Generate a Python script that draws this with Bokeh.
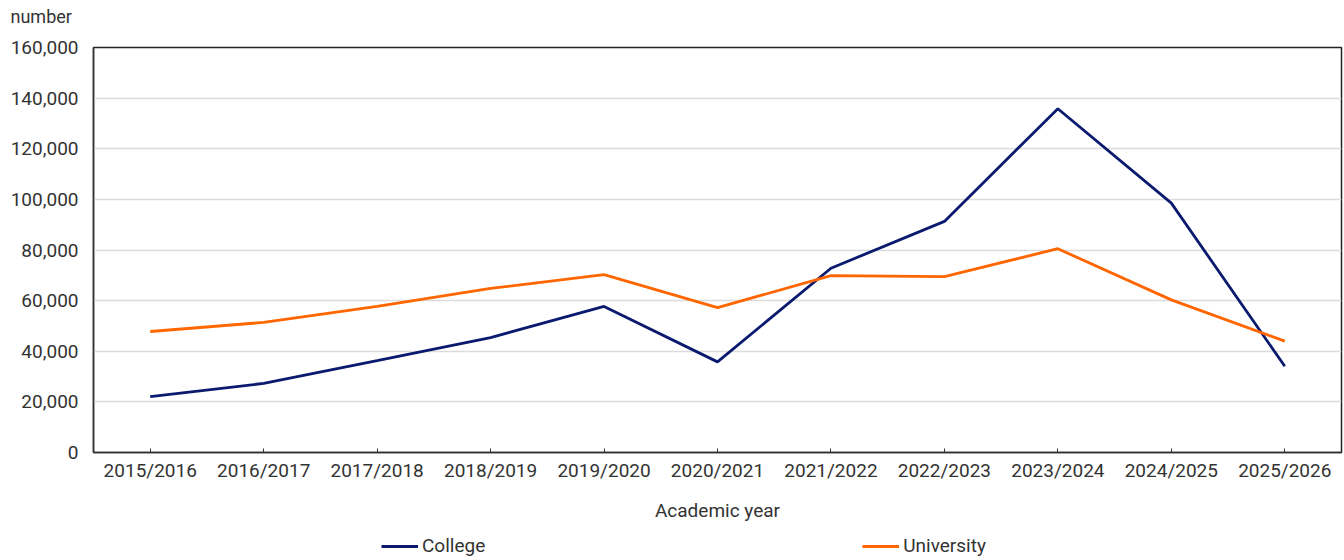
from bokeh.plotting import figure
from bokeh.layouts import column
from bokeh.models import (FactorRange, Range1d, NumeralTickFormatter, Legend,
                          LegendItem, FixedTicker)
from bokeh.embed import file_html
from bokeh.resources import INLINE

years = ["2015/2016", "2016/2017", "2017/2018", "2018/2019", "2019/2020",
         "2020/2021", "2021/2022", "2022/2023", "2023/2024", "2024/2025",
         "2025/2026"]
college = [22100, 27300, 36300, 45400, 57700, 35800, 72800, 91300, 135800, 98500, 34100]
university = [47800, 51400, 57700, 64800, 70300, 57200, 69900, 69500, 80500, 60300, 44000]
y_ticks = [0, 20000, 40000, 60000, 80000, 100000, 120000, 140000, 160000]

FONT = "Roboto"
FS = "19px"
TXT = "#333333"
C1 = "#0a1a6e"
C2 = "#ff6600"

p = figure(width=1344, height=525, x_range=FactorRange(*years),
           y_range=Range1d(0, 160000), output_backend="svg",
           toolbar_location=None, min_border_left=93, min_border_right=3,
           min_border_top=47, min_border_bottom=73,
           title="number\n ")

p.title.align = "left"
p.title.vertical_align = "bottom"
p.title.offset = -83
p.title.standoff = 0
p.title.text_font = FONT
p.title.text_font_size = "18px"
p.title.text_font_style = "normal"
p.title.text_color = TXT

p.outline_line_color = "#222222"
p.outline_line_width = 1.5
p.background_fill_color = "white"
p.border_fill_color = "white"

p.xgrid.grid_line_color = None
p.ygrid.grid_line_color = "#dcdcdc"
p.ygrid.grid_line_width = 1.5

p.yaxis.ticker = FixedTicker(ticks=y_ticks)
p.yaxis.formatter = NumeralTickFormatter(format="0,0")
p.yaxis.major_tick_line_color = None
p.yaxis.major_tick_out = 0
p.yaxis.major_tick_in = 0
p.yaxis.minor_tick_line_color = None
p.yaxis.axis_line_color = "#333333"
p.yaxis.axis_line_width = 1.5
p.yaxis.major_label_standoff = 15
p.yaxis.major_label_text_font = FONT
p.yaxis.major_label_text_font_size = FS
p.yaxis.major_label_text_color = TXT

p.xaxis.axis_line_color = "#333333"
p.xaxis.axis_line_width = 1.5
p.xaxis.major_tick_in = 4
p.xaxis.major_tick_out = 0
p.xaxis.major_tick_line_color = "#333333"
p.xaxis.major_label_standoff = 6
p.xaxis.major_label_text_font = FONT
p.xaxis.major_label_text_font_size = FS
p.xaxis.major_label_text_color = TXT
p.xaxis.axis_label = "Academic year"
p.xaxis.axis_label_text_font = FONT
p.xaxis.axis_label_text_font_size = FS
p.xaxis.axis_label_text_font_style = "normal"
p.xaxis.axis_label_text_color = TXT
p.xaxis.axis_label_standoff = 14

p.line(years, college, line_color=C1, line_width=2.8)
p.line(years, university, line_color=C2, line_width=2.8)

# Legend strip below the chart (its lines use the same data, but the
# y range is set so that they stay out of view; only the legend shows)
q = figure(width=1344, height=35, x_range=FactorRange(*years),
           y_range=Range1d(-2, -1), output_backend="svg",
           toolbar_location=None, min_border=0,
           x_axis_type=None, y_axis_type=None)
q.outline_line_color = None
q.xgrid.grid_line_color = None
q.ygrid.grid_line_color = None
g1 = q.line(years, college, line_color=C1, line_width=3)
g2 = q.line(years, university, line_color=C2, line_width=3)
legend = Legend(items=[LegendItem(label="College", renderers=[g1]),
                       LegendItem(label="University", renderers=[g2])],
                location=(288, 3), orientation="horizontal",
                glyph_width=37, label_standoff=4, padding=0, margin=0,
                spacing=377,
                border_line_color=None, background_fill_alpha=0,
                label_text_font=FONT, label_text_font_size=FS,
                label_text_color=TXT)
q.add_layout(legend)

layout = column(p, q, spacing=0)
open("out.html", "w").write(file_html(layout, INLINE))
